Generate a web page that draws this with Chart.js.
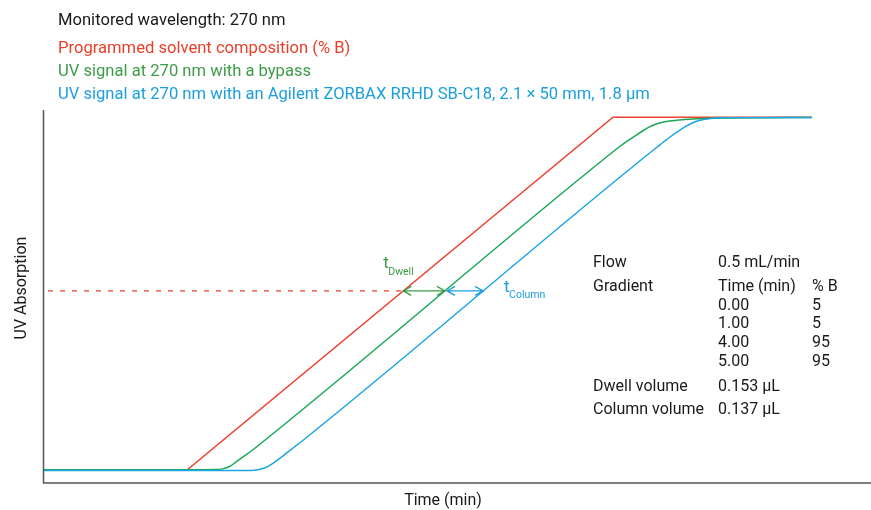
<!DOCTYPE html>
<html>
<head>
<meta charset="utf-8">
<script src="https://cdn.jsdelivr.net/npm/chart.js@4.4.1/dist/chart.umd.min.js"></script>
<style>
  html, body { margin: 0; padding: 0; background: #ffffff; }
  #wrap { width: 871px; height: 510px; position: relative; }
</style>
</head>
<body>
<div id="wrap"><canvas id="c" width="871" height="510"></canvas></div>
<script>
// Programmed gradient (% B) versus time (min)
const redTime = [-0.014, 1.00, 4.00, 5.40];
const redB    = [5.0, 5.0, 95.0, 95.0];

// UV trace, bypass (delayed by the dwell volume)
const greenTime = [-0.014, 1.00, 1.20, 1.25, 1.30, 1.35, 1.40, 1.45, 1.50, 4.00, 4.05, 4.10, 4.15, 4.20, 4.25, 4.30, 4.35, 4.40, 4.50, 4.60, 4.75, 5.00, 5.40];
const greenB    = [5.1, 5.1, 5.15, 5.3, 5.9, 7.2, 8.5, 9.8, 11.2, 86.2, 87.6, 88.9, 90.1, 91.3, 92.4, 93.2, 93.7, 94.05, 94.4, 94.6, 94.8, 94.9, 94.95];

// UV trace, with column (delayed by dwell + column volume)
const blueTime = [-0.014, 1.45, 1.50, 1.55, 1.60, 1.65, 1.70, 1.75, 1.80, 4.30, 4.35, 4.40, 4.45, 4.50, 4.55, 4.60, 4.65, 4.70, 4.80, 5.40];
const blueB    = [4.9, 4.9, 5.1, 5.6, 6.6, 7.9, 9.3, 10.7, 12.1, 87.1, 88.5, 89.9, 91.2, 92.4, 93.4, 94.1, 94.5, 94.75, 94.9, 94.95];

// Half-height reference level and the crossing times of the three traces
const refLevel = 50.7;
const crossTimes = [2.523, 2.817, 3.085];   // red, green, blue

const legendLines = [
  'Monitored wavelength: 270 nm',
  'Programmed solvent composition (% B)',
  'UV signal at 270 nm with a bypass',
  'UV signal at 270 nm with an Agilent ZORBAX RRHD SB-C18, 2.1 × 50 mm, 1.8 µm'
];
const tableRows = [
  ['Flow', '0.5 mL/min', ''],
  ['Gradient', 'Time (min)', '% B'],
  ['', '0.00', '5'],
  ['', '1.00', '5'],
  ['', '4.00', '95'],
  ['', '5.00', '95'],
  ['Dwell volume', '0.153 µL', ''],
  ['Column volume', '0.137 µL', '']
];

const RED = '#ee4130', GREEN = '#1aa858', BLUE = '#1ca6e4';
const TXT = '#1a1a1a';
const FONT = 'Roboto, "Liberation Sans", sans-serif';

const pts = (xs, ys) => xs.map((x, i) => ({ x: x, y: ys[i] }));

const overlay = {
  id: 'overlay',
  afterDatasetsDraw(chart) {
    const { ctx, chartArea: a, scales: { x, y } } = chart;
    ctx.save();

    // axis lines
    ctx.strokeStyle = '#555555';
    ctx.lineWidth = 1.5;
    ctx.beginPath();
    ctx.moveTo(a.left + 0.5, a.top);
    ctx.lineTo(a.left + 0.5, a.bottom);
    ctx.lineTo(a.right, a.bottom);
    ctx.stroke();

    // double-headed arrows along the reference level
    const yl = y.getPixelForValue(refLevel);
    const xr = x.getPixelForValue(crossTimes[0]);
    const xg = x.getPixelForValue(crossTimes[1]);
    const xb = x.getPixelForValue(crossTimes[2]);
    function arrow(x1, x2, col) {
      ctx.strokeStyle = col;
      ctx.lineWidth = 1.3;
      ctx.beginPath();
      ctx.moveTo(x1, yl); ctx.lineTo(x2, yl);
      ctx.moveTo(x1 + 8, yl - 4.5); ctx.lineTo(x1, yl); ctx.lineTo(x1 + 8, yl + 4.5);
      ctx.moveTo(x2 - 8, yl - 4.5); ctx.lineTo(x2, yl); ctx.lineTo(x2 - 8, yl + 4.5);
      ctx.stroke();
    }
    arrow(xr, xg, '#3e9b47');
    arrow(xg + 2, xb, '#1a9fde');

    // t_Dwell and t_Column labels
    ctx.textBaseline = 'alphabetic';
    ctx.textAlign = 'left';
    ctx.fillStyle = '#3e9b47';
    ctx.font = '17px ' + FONT;
    ctx.fillText('t', xr - 20, yl - 23);
    ctx.font = '10.5px ' + FONT;
    ctx.fillText('Dwell', xr - 15, yl - 16);
    ctx.fillStyle = '#1a9fde';
    ctx.font = '17px ' + FONT;
    ctx.fillText('t', xb + 21, yl + 1);
    ctx.font = '10.5px ' + FONT;
    ctx.fillText('Column', xb + 26, yl + 7);

    // header lines
    ctx.font = '16.6px ' + FONT;
    ctx.textBaseline = 'middle';
    const hdrCols = [TXT, '#e8402a', '#3e9b47', '#1a9fde'];
    const hdrY = [21, 49, 72, 95];
    legendLines.forEach((s, i) => {
      ctx.fillStyle = hdrCols[i];
      ctx.fillText(s, 58, hdrY[i]);
    });

    // method table
    ctx.font = '16px ' + FONT;
    ctx.fillStyle = TXT;
    const rowY = [263, 287, 306, 324, 343, 362, 387, 410];
    const colX = [593, 718, 812];
    tableRows.forEach((r, i) => {
      r.forEach((s, j) => { if (s) ctx.fillText(s, colX[j], rowY[i]); });
    });

    // axis titles
    ctx.textAlign = 'center';
    ctx.fillText('Time (min)', 443, 501);
    ctx.translate(22, 288);
    ctx.rotate(-Math.PI / 2);
    ctx.fillText('UV Absorption', 0, 0);
    ctx.restore();
  }
};

new Chart(document.getElementById('c'), {
  type: 'line',
  data: {
    datasets: [
      {
        data: [{ x: -0.014, y: refLevel }, { x: crossTimes[0], y: refLevel }],
        borderColor: RED, borderWidth: 1.3, borderDash: [5, 7], borderDashOffset: -5,
        pointRadius: 0, order: 4
      },
      { data: pts(redTime, redB), borderColor: RED, borderWidth: 1.5, pointRadius: 0, order: 3 },
      { data: pts(greenTime, greenB), borderColor: GREEN, borderWidth: 1.5, pointRadius: 0,
        cubicInterpolationMode: 'monotone', order: 2 },
      { data: pts(blueTime, blueB), borderColor: BLUE, borderWidth: 1.5, pointRadius: 0,
        cubicInterpolationMode: 'monotone', order: 1 }
    ]
  },
  options: {
    responsive: false,
    animation: false,
    layout: { padding: { left: 43, top: 110, right: 0, bottom: 27 } },
    plugins: { legend: { display: false }, tooltip: { enabled: false } },
    scales: {
      x: { type: 'linear', display: false, min: -0.014, max: 5.817 },
      y: { type: 'linear', display: false, min: 1.7, max: 96.85 }
    }
  },
  plugins: [overlay]
});
</script>
</body>
</html>
